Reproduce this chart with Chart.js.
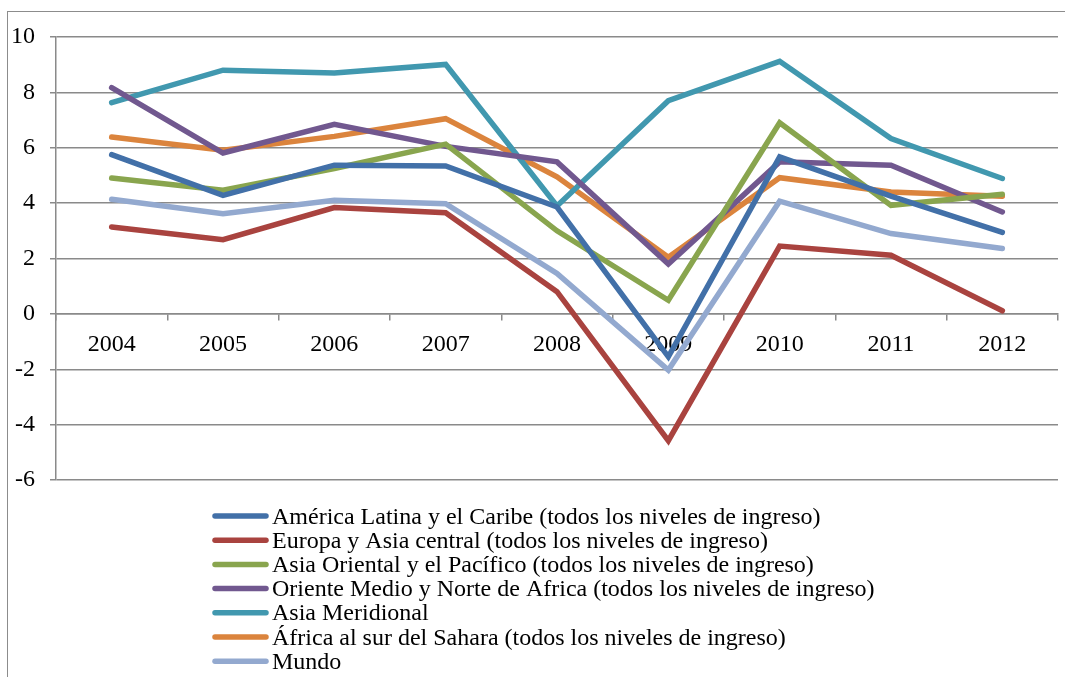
<!DOCTYPE html>
<html>
<head>
<meta charset="utf-8">
<script src="https://cdn.jsdelivr.net/npm/chart.js@4"></script>
<style>
  html, body { margin: 0; padding: 0; background: #fff; }
  #wrap { position: relative; width: 1065px; height: 677px; overflow: hidden; }
  #frame { position: absolute; left: 7px; top: 11px; width: 1100px; height: 700px;
           border-left: 1.5px solid #8c8c8c; border-top: 1.5px solid #8c8c8c; }
  canvas { position: absolute; left: 0; top: 0; }
</style>
</head>
<body>
<div id="wrap">
  <div id="frame"></div>
  <canvas id="lineChart" width="1065" height="677"></canvas>
</div>
<script>
// categories
const years = ['2004', '2005', '2006', '2007', '2008', '2009', '2010', '2011', '2012'];

// series values
const americaLatina = [5.75, 4.28, 5.37, 5.34, 3.86, -1.55, 5.67, 4.25, 2.94];
const europaAsiaCentral = [3.14, 2.68, 3.84, 3.65, 0.8, -4.58, 2.45, 2.12, 0.11];
const asiaOriental = [4.91, 4.47, 5.25, 6.13, 3.0, 0.49, 6.9, 3.92, 4.32];
const orienteMedio = [8.17, 5.81, 6.85, 6.05, 5.49, 1.8, 5.49, 5.37, 3.68];
const asiaMeridional = [7.63, 8.8, 8.7, 9.01, 3.9, 7.7, 9.12, 6.33, 4.89];
const africaSur = [6.39, 5.91, 6.41, 7.05, 4.95, 2.05, 4.92, 4.4, 4.25];
const mundo = [4.14, 3.62, 4.1, 3.98, 1.46, -2.03, 4.07, 2.9, 2.36];

// series names
const seriesNames = [
  'América Latina y el Caribe (todos los niveles de ingreso)',
  'Europa y Asia central (todos los niveles de ingreso)',
  'Asia Oriental y el Pacífico (todos los niveles de ingreso)',
  'Oriente Medio y Norte de Africa (todos los niveles de ingreso)',
  'Asia Meridional',
  'África al sur del Sahara (todos los niveles de ingreso)',
  'Mundo',
];

// y ticks
const yMin = -6;
const yMax = 10;
const yStep = 2;

const colorPalette = [
  '#4270a8', // blue
  '#a9433f', // red
  '#89a54e', // green
  '#71588f', // purple
  '#4198af', // teal
  '#db843d', // orange
  '#93a9cf', // light blue
];

const seriesValues = [americaLatina, europaAsiaCentral, asiaOriental, orienteMedio, asiaMeridional, africaSur, mundo];

const gridColor = '#8a8a8a';
const fontFamily = '"Liberation Serif", "Times New Roman", serif';

// legend drawn on the canvas, one row each, left aligned
const stackedLegend = {
  id: 'stackedLegend',
  afterDraw(chart) {
    const ctx = chart.ctx;
    ctx.save();
    ctx.font = '24px ' + fontFamily;
    ctx.textBaseline = 'alphabetic';
    ctx.lineCap = 'round';
    chart.data.datasets.forEach((ds, i) => {
      const y = 516 + i * 24.2;
      ctx.strokeStyle = ds.borderColor;
      ctx.lineWidth = 5.5;
      ctx.beginPath();
      ctx.moveTo(215, y);
      ctx.lineTo(266, y);
      ctx.stroke();
      ctx.fillStyle = '#000';
      ctx.fillText(ds.label, 272, y + 7.5);
    });
    ctx.restore();
  },
};

new Chart(document.getElementById('lineChart'), {
  type: 'line',
  data: {
    labels: years,
    datasets: seriesNames.map((name, i) => ({
      label: name,
      data: seriesValues[i],
      borderColor: colorPalette[i],
      backgroundColor: colorPalette[i],
      borderWidth: 5.5,
      pointRadius: 0,
      tension: 0,
      borderCapStyle: 'round',
      borderJoinStyle: 'miter',
    })),
  },
  options: {
    responsive: false,
    animation: false,
    layout: {
      padding: { left: 0, right: 7, top: 37, bottom: 197 },
    },
    scales: {
      y: {
        min: yMin,
        max: yMax,
        afterFit: scale => { scale.width = 56; },
        ticks: {
          stepSize: yStep,
          color: '#000',
          padding: 15,
          font: { family: fontFamily, size: 24 },
        },
        grid: {
          color: gridColor,
          lineWidth: 1.5,
          tickLength: 6,
        },
        border: { color: gridColor, width: 1.5 },
      },
      x: {
        position: { y: 0 },
        offset: true,
        ticks: {
          color: '#000',
          padding: 10,
          font: { family: fontFamily, size: 24 },
          maxRotation: 0,
        },
        grid: {
          offset: true,
          drawOnChartArea: false,
          drawTicks: true,
          tickLength: 6,
          color: gridColor,
          lineWidth: 1.5,
        },
        border: { color: gridColor, width: 1.5 },
      },
    },
    plugins: {
      legend: { display: false },
      tooltip: { enabled: false },
    },
  },
  plugins: [stackedLegend],
});
</script>
</body>
</html>
